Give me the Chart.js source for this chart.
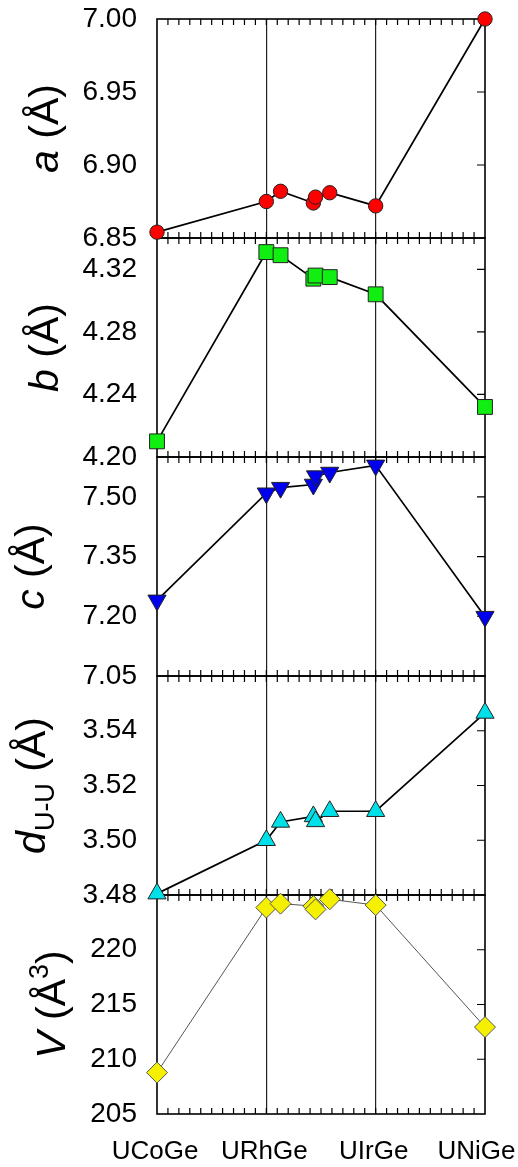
<!DOCTYPE html>
<html><head><meta charset="utf-8">
<script src="https://cdn.jsdelivr.net/npm/chart.js@4"></script>
<style>html,body{margin:0;padding:0;background:#fff;}#wrap{width:518px;height:1167px;}</style>
</head><body><div id="wrap"><canvas id="c" width="518" height="1167"></canvas></div>
<script>
// ---- data ----
const xLabels = ['UCoGe', 'URhGe', 'UIrGe', 'UNiGe'];
const xPos  = [0, 1, 1.13, 1.43, 1.45, 1.58, 2, 3];
const aVals = [6.854, 6.875, 6.882, 6.874, 6.878, 6.881, 6.872, 7.000];
const bVals = [4.210, 4.331, 4.329, 4.314, 4.316, 4.315, 4.304, 4.232];
const cVals = [7.240, 7.509, 7.523, 7.531, 7.552, 7.561, 7.579, 7.199];
const dVals = [3.4805, 3.500, 3.5067, 3.5087, 3.5069, 3.5106, 3.5106, 3.5465];
const vVals = [208.78, 223.85, 224.21, 223.99, 223.69, 224.61, 224.08, 212.94];
const aTicks = [6.85, 6.90, 6.95, 7.00];
const bTicks = [4.20, 4.24, 4.28, 4.32];
const cTicks = [7.05, 7.20, 7.35, 7.50];
const dTicks = [3.48, 3.50, 3.52, 3.54];
const vTicks = [205, 210, 215, 220];

const FONT = "'Liberation Sans', Arial, sans-serif";
Chart.defaults.font.family = FONT;
Chart.defaults.color = '#000';

const pts = vals => vals.map((v, i) => ({x: xPos[i], y: v}));

function yScale(min, max, ticks, weight, dec) {
  return {
    type: 'linear', position: 'left', stack: 'panels', stackWeight: 1, weight: weight,
    min: min, max: max,
    afterBuildTicks: s => { s.ticks = ticks.map(v => ({value: v})); },
    afterFit: s => { s.width = 157; s.paddingTop = 0; s.paddingBottom = 0; },
    ticks: { font: {size: 28}, color: '#000', padding: 20, callback: v => v.toFixed(dec) },
    grid: { display: false, drawTicks: false },
    border: { display: false }
  };
}

const framePlugin = {
  id: 'frame',
  beforeDatasetsDraw(chart) {
    const ctx = chart.ctx, ca = chart.chartArea, xs = chart.scales.x;
    ctx.save();
    ctx.strokeStyle = '#000';
    ['ya','yb','yc','yd','yv'].forEach(id => {
      const s = chart.scales[id];
      ctx.lineWidth = 1.6;
      ctx.strokeRect(ca.left, s.top, ca.right - ca.left, s.bottom - s.top);
      ctx.lineWidth = 1.2;
      ctx.beginPath();
      for (let k = 1; k < 30; k++) {
        const px = xs.getPixelForValue(k / 10);
        ctx.moveTo(px, s.top); ctx.lineTo(px, s.top + 6);
        ctx.moveTo(px, s.bottom); ctx.lineTo(px, s.bottom - 6);
      }
      s.ticks.forEach(t => {
        const py = s.getPixelForValue(t.value);
        if (py > s.top + 2 && py < s.bottom - 2) {
          ctx.moveTo(ca.right, py); ctx.lineTo(ca.right - 8, py);
        }
      });
      ctx.stroke();
    });
    ctx.restore();
  },
  afterDraw(chart) {
    const ctx = chart.ctx;
    const specs = [
      {id: 'ya', bx: 58, parts: [['a', 'i'], [' (Å)', 'n']]},
      {id: 'yb', bx: 58, parts: [['b', 'i'], [' (Å)', 'n']]},
      {id: 'yc', bx: 44, parts: [['c', 'i'], [' (Å)', 'n']]},
      {id: 'yd', bx: 45, parts: [['d', 'i'], ['U-U', 'sub'], [' (Å)', 'n']]},
      {id: 'yv', bx: 65, parts: [['V', 'i'], [' (Å', 'n'], ['3', 'sup'], [')', 'n']]}
    ];
    const size = 41;
    const fontFor = k => k === 'i' ? `italic ${size}px ${FONT}` : (k === 'n' ? `${size}px ${FONT}` : `${Math.round(size*0.66)}px ${FONT}`);
    specs.forEach(sp => {
      const s = chart.scales[sp.id];
      const cy = (s.top + s.bottom) / 2;
      ctx.save();
      ctx.translate(sp.bx, cy);
      ctx.rotate(-Math.PI / 2);
      ctx.fillStyle = '#000';
      ctx.textBaseline = 'alphabetic';
      ctx.textAlign = 'left';
      let total = 0;
      sp.parts.forEach(p => { ctx.font = fontFor(p[1]); total += ctx.measureText(p[0]).width; });
      let x = -total / 2;
      sp.parts.forEach(p => {
        ctx.font = fontFor(p[1]);
        const dy = p[1] === 'sub' ? 9 : (p[1] === 'sup' ? -17 : 0);
        ctx.fillText(p[0], x, dy);
        x += ctx.measureText(p[0]).width;
      });
      ctx.restore();
    });
  }
};

const ds = (vals, axis, style, r, fill, border, lw, lc, rot) => ({
  data: pts(vals), yAxisID: axis, showLine: true, clip: false,
  borderColor: lc, borderWidth: lw,
  pointStyle: style, pointRadius: r, pointHoverRadius: r, pointRotation: rot || 0,
  pointBackgroundColor: fill, pointBorderColor: border, pointBorderWidth: 1
});

new Chart(document.getElementById('c'), {
  type: 'scatter',
  data: {
    datasets: [
      ds(aVals, 'ya', 'circle', 7.2, '#ff0000', '#222', 1.7, '#000'),
      ds(bVals, 'yb', 'rect', 10.5, '#11ee11', '#222', 1.7, '#000'),
      ds(cVals, 'yc', 'triangle', 10.5, '#0000ee', '#222', 1.7, '#000', 180),
      ds(dVals, 'yd', 'triangle', 10.5, '#00e0e8', '#222', 1.7, '#000'),
      ds(vVals, 'yv', 'rectRot', 10.5, '#f5f000', '#555', 1, '#555')
    ]
  },
  options: {
    responsive: false, animation: false, devicePixelRatio: 1,
    layout: { padding: {top: 19, right: 33, left: 0, bottom: 0} },
    plugins: { legend: {display: false}, tooltip: {enabled: false} },
    scales: {
      x: {
        type: 'linear', position: 'bottom', min: 0, max: 3,
        afterBuildTicks: s => { s.ticks = xLabels.map((l, i) => ({value: i})); },
        afterFit: s => { s.height = 53; s.paddingLeft = 0; s.paddingRight = 0; },
        ticks: { font: {size: 26}, color: '#000', padding: 22, labelOffset: -2,
                 callback: v => (v === 3 ? xLabels[v] + '\u2002' : xLabels[v]) },
        grid: { drawTicks: false, lineWidth: 1.2,
                color: c => (c.tick && (c.tick.value === 1 || c.tick.value === 2)) ? '#222' : 'rgba(0,0,0,0)' },
        border: { display: false }
      },
      ya: yScale(6.85, 7.00, aTicks, 5, 2),
      yb: yScale(4.20, 4.34, bTicks, 4, 2),
      yc: yScale(7.05, 7.60, cTicks, 3, 2),
      yd: yScale(3.48, 3.56, dTicks, 2, 2),
      yv: yScale(205, 225, vTicks, 1, 0)
    }
  },
  plugins: [framePlugin]
});
</script></body></html>
